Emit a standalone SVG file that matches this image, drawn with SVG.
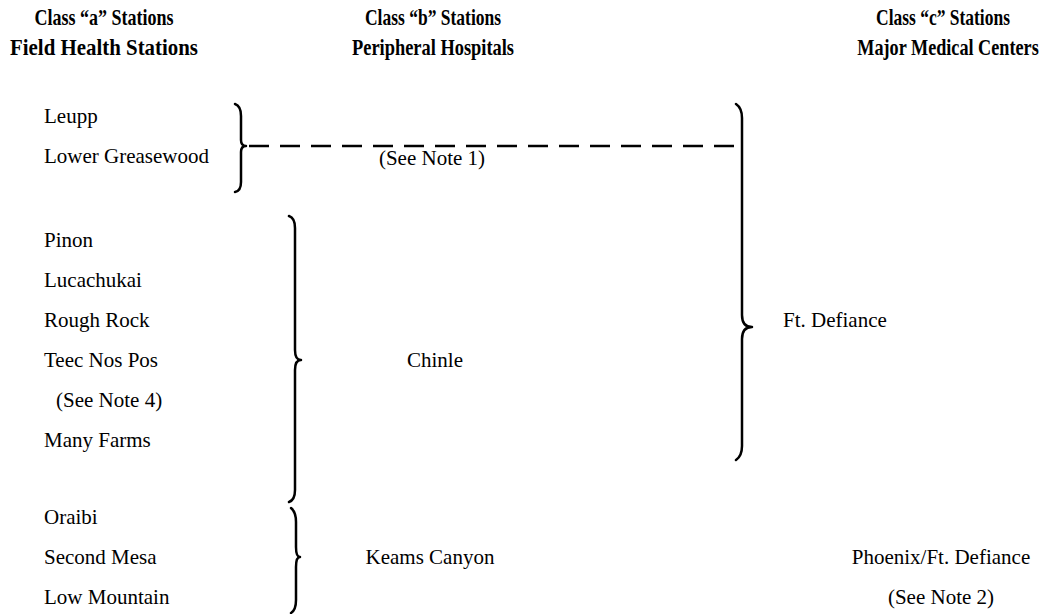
<svg xmlns="http://www.w3.org/2000/svg" width="1053" height="614" viewBox="0 0 1053 614">
<style>
.h{font-family:"Liberation Serif","DejaVu Serif",serif;font-weight:bold;font-size:24px;fill:#000;text-anchor:middle}
.t{font-family:"Liberation Serif","DejaVu Serif",serif;font-size:21px;fill:#000}
.c{text-anchor:middle}
.br{fill:none;stroke:#000;stroke-width:2.5;stroke-linecap:round;stroke-linejoin:round}
.dash{fill:none;stroke:#000;stroke-width:2.5;stroke-dasharray:20 11}
</style>
<rect width="1053" height="614" fill="#fff"/>
<g id="header-a">
<text class="h" x="104" y="25" textLength="139" lengthAdjust="spacingAndGlyphs">Class “a” Stations</text>
<text class="h" x="104" y="55" textLength="188" lengthAdjust="spacingAndGlyphs">Field Health Stations</text>
</g>
<g id="header-b">
<text class="h" x="433" y="25" textLength="136" lengthAdjust="spacingAndGlyphs">Class “b” Stations</text>
<text class="h" x="433" y="55" textLength="162" lengthAdjust="spacingAndGlyphs">Peripheral Hospitals</text>
</g>
<g id="header-c">
<text class="h" transform="translate(943 25) scale(0.728 1)">Class “c” Stations</text>
<text class="h" transform="translate(948 55) scale(0.758 1)">Major Medical Centers</text>
</g>
<g id="group-leupp">
<text class="t" x="44" y="123">Leupp</text>
<text class="t" x="44" y="163">Lower Greasewood</text>
</g>
<g id="group-chinle-stations">
<text class="t" x="44" y="247">Pinon</text>
<text class="t" x="44" y="287">Lucachukai</text>
<text class="t" x="44" y="327">Rough Rock</text>
<text class="t" x="44" y="367">Teec Nos Pos</text>
<text class="t" x="56" y="407">(See Note 4)</text>
<text class="t" x="44" y="447">Many Farms</text>
</g>
<g id="group-keams-stations">
<text class="t" x="44" y="524">Oraibi</text>
<text class="t" x="44" y="564">Second Mesa</text>
<text class="t" x="44" y="604">Low Mountain</text>
</g>
<g id="note1"><text class="t c" x="432" y="165">(See Note 1)</text></g>
<g id="chinle"><text class="t c" x="435" y="367">Chinle</text></g>
<g id="keams"><text class="t c" x="430" y="564">Keams Canyon</text></g>
<g id="ft-defiance"><text class="t" x="783" y="327">Ft. Defiance</text></g>
<g id="phoenix">
<text class="t c" x="941" y="564">Phoenix/Ft. Defiance</text>
<text class="t c" x="941" y="604">(See Note 2)</text>
</g>
<g id="connectors">
<path class="br" d="M235,104 Q241,106 241,116 L241,140 Q241,146 246,146 Q241,146 241,152 L241,182 Q241,191 235,192"/>
<path class="dash" d="M249,146 L742,146"/>
<path class="br" d="M289,216 Q295,218 295,228 L295,350 Q295,360 301,360 Q295,360 295,370 L295,490 Q295,500 289,502"/>
<path class="br" d="M736,104 Q742,108 742,118 L742,315 Q742,327 752,327 Q742,327 742,339 L742,446 Q742,456 736,460"/>
<path class="br" d="M291,508 Q296,512 296,522 L296,547 Q296,557 300,557 Q296,557 296,567 L296,600 Q296,610 291,613"/>
</g>
</svg>
